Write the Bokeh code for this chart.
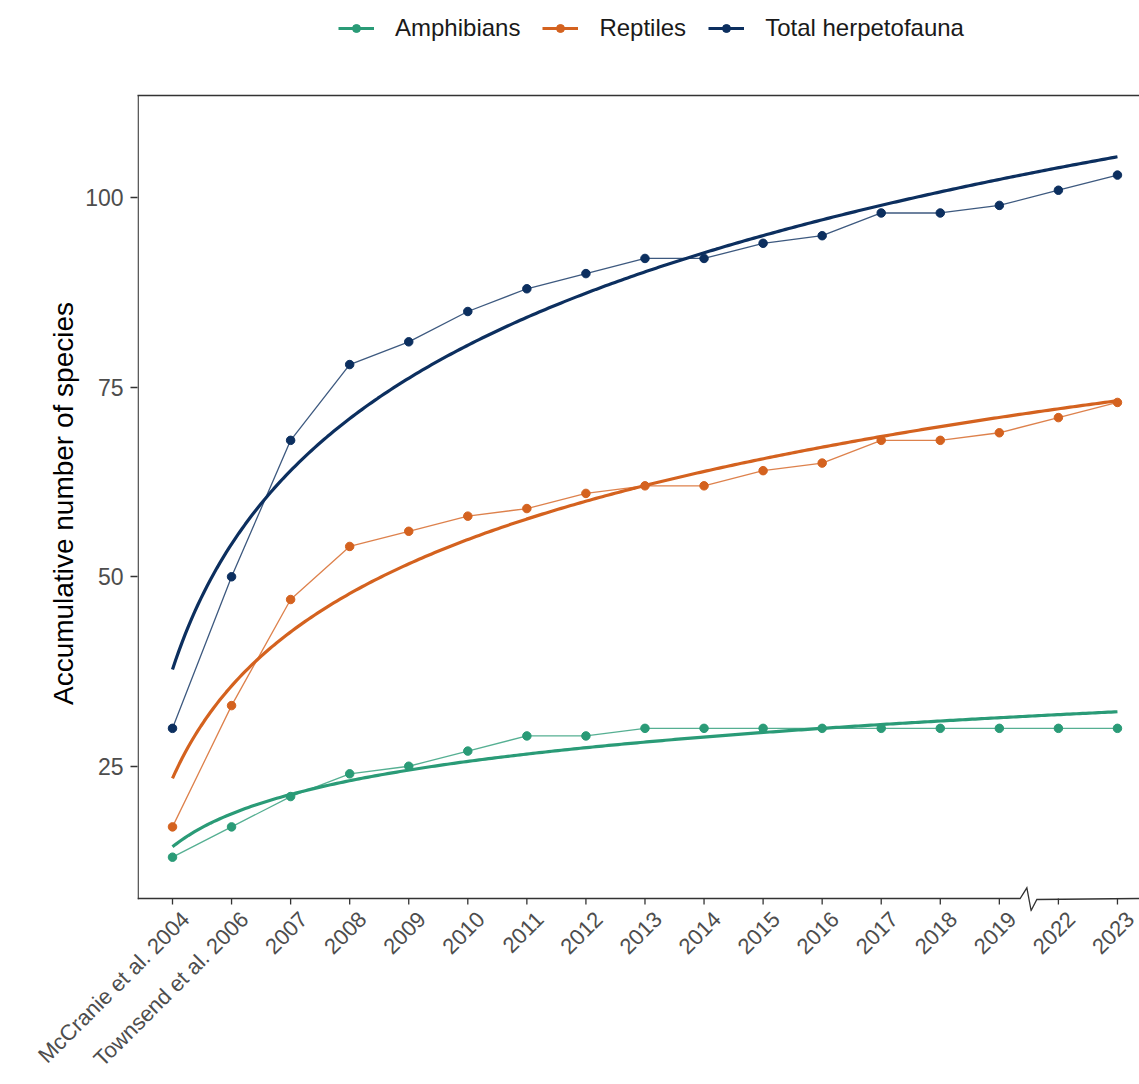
import numpy as np
from bokeh.plotting import figure
from bokeh.layouts import column
from bokeh.models import (Range1d, FixedTicker, LinearAxis, Legend, LegendItem, Title)
from bokeh.embed import file_html
from bokeh.resources import INLINE

# ---------------- data ----------------
categories = ["McCranie et al. 2004", "Townsend et al. 2006", "2007", "2008", "2009",
              "2010", "2011", "2012", "2013", "2014", "2015", "2016", "2017", "2018",
              "2019", "2022", "2023"]
amphibians = [13, 17, 21, 24, 25, 27, 29, 29, 30, 30, 30, 30, 30, 30, 30, 30, 30]
reptiles = [17, 33, 47, 54, 56, 58, 59, 61, 62, 62, 64, 65, 68, 68, 69, 71, 73]
total = [30, 50, 68, 78, 81, 85, 88, 90, 92, 92, 94, 95, 98, 98, 99, 101, 103]
series_names = ["Amphibians", "Reptiles", "Total herpetofauna"]
y_ticks = [25, 50, 75, 100]
axis_break_after = "2019"

# ---------------- styling / layout ----------------
colors = ["#2a9b77", "#d4621f", "#0c2f5f"]
FONT = "Liberation Sans"
AXIS_COL = "#333333"
W, H = 1139, 1084
LEG_H = 50                                         # height of the legend strip
LEFT, TOP, BASE, BOTTOM = 137, 95, 898, 911      # page px: frame edges / baseline
PX_X = 59.06                                       # px per category step
X0 = 1 - 35 / PX_X
X1 = X0 + (W - LEFT) / PX_X
Y1, YB = 113.5, 7.55                               # value at frame top, at baseline
PX_Y = (BASE - TOP) / (Y1 - YB)
Y0 = YB - (BOTTOM - BASE) / PX_Y

idx = np.arange(1, len(categories) + 1)

p = figure(width=W, height=H - LEG_H, output_backend="svg", toolbar_location=None,
           x_range=Range1d(X0, X1), y_range=Range1d(Y0, Y1),
           min_border_left=LEFT, min_border_right=0, min_border_top=TOP - LEG_H,
           min_border_bottom=H - BOTTOM)
p.outline_line_color = None
p.xgrid.grid_line_color = None
p.ygrid.grid_line_color = None

# ---------------- panel border: left line, baseline with break, x ticks ----------------
xl = X0 + 0.65 / PX_X
p.segment(x0=[xl], y0=[YB], x1=[xl], y1=[Y1], line_color=AXIS_COL, line_width=1.3,
          line_cap="square")
b = categories.index(axis_break_after) + 1
bx = [b + 0.352, b + 0.466, b + 0.538, b + 0.635]
base_x = [X0, bx[0], bx[1], bx[2], bx[3], X1]
base_y = [YB, YB, YB + 10.7 / PX_Y, YB - 12 / PX_Y, YB - 1 / PX_Y, YB]
p.line(base_x, base_y, line_color=AXIS_COL, line_width=1.3, line_join="miter")
p.segment(x0=idx, y0=[YB] * len(idx), x1=idx, y1=[YB - 6 / PX_Y] * len(idx),
          line_color=AXIS_COL, line_width=1.3)

# ---------------- series ----------------
xs_fit = np.linspace(1, len(categories), 300)
for name, vals, col in zip(series_names, [amphibians, reptiles, total], colors):
    # logarithmic regression of the plotted values (as in the original smooth)
    bb, aa = np.polyfit(np.log(idx), np.array(vals, dtype=float), 1)
    p.line(xs_fit, aa + bb * np.log(xs_fit), line_color=col, line_width=3.2)
    p.line(idx, vals, line_color=col, line_width=1.3, line_alpha=0.8)
    p.scatter(idx, vals, size=8.5, fill_color=col, line_color=col)

# ---------------- axes ----------------
shift = 13 / PX_X   # rotated labels are anchored at their right-middle point
xa = p.xaxis[0]
xa.ticker = FixedTicker(ticks=[float(i + shift) for i in idx])
xa.major_label_overrides = {float(i + shift): c for i, c in zip(idx, categories)}
xa.major_label_orientation = np.pi / 4
xa.major_label_text_font = FONT
xa.major_label_text_font_size = "22px"
xa.major_label_text_color = "#4d4d4d"
xa.major_label_standoff = 4
xa.major_tick_out = 0
xa.major_tick_in = 0
xa.major_tick_line_color = None
xa.minor_tick_line_color = None
xa.axis_line_color = None

ya = p.yaxis[0]
ya.ticker = FixedTicker(ticks=y_ticks)
ya.major_label_text_font = FONT
ya.major_label_text_font_size = "23px"
ya.major_label_text_color = "#4d4d4d"
ya.major_label_standoff = 7
ya.major_tick_out = 7
ya.major_tick_in = 0
ya.major_tick_line_color = AXIS_COL
ya.major_tick_line_width = 1.3
ya.minor_tick_line_color = None
ya.axis_line_color = None

p.add_layout(Title(text="Accumulative number of species", align="center", offset=17,
                   standoff=8, text_font=FONT, text_font_size="28px",
                   text_font_style="normal", text_color="black"), "left")

top = LinearAxis(ticker=FixedTicker(ticks=[]), major_label_text_font_size="0px",
                 major_tick_out=0, major_tick_in=0, major_label_standoff=0,
                 axis_line_color=AXIS_COL, axis_line_width=1.3,
                 major_tick_line_color=None, minor_tick_line_color=None)
p.add_layout(top, "above")

# ---------------- legend strip (own small figure above the chart) ----------------
lf = figure(width=W, height=LEG_H, output_backend="svg", toolbar_location=None,
            x_range=Range1d(0, 1), y_range=Range1d(0, 1),
            x_axis_type=None, y_axis_type=None, min_border=0)
lf.outline_line_color = None
lf.xgrid.grid_line_color = None
lf.ygrid.grid_line_color = None
items = []
for name, col in zip(series_names, colors):
    # keys only: placed outside the strip's visible range
    r_line = lf.line([-5, -4], [-5, -5], line_color=col, line_width=3.2)
    r_pt = lf.scatter([-5], [-5], size=8.5, fill_color=col, line_color=col)
    items.append(LegendItem(label=name, renderers=[r_line, r_pt]))
legend = Legend(items=items, orientation="horizontal", location=(201, 8),
                glyph_width=36, glyph_height=20, label_standoff=21, spacing=22,
                padding=0, margin=0, border_line_color=None, background_fill_alpha=0,
                label_text_font=FONT, label_text_font_size="24px",
                label_text_color="#1a1a1a")
lf.add_layout(legend, "center")

layout = column(lf, p, spacing=0)
open("out.html", "w").write(file_html(layout, INLINE))
